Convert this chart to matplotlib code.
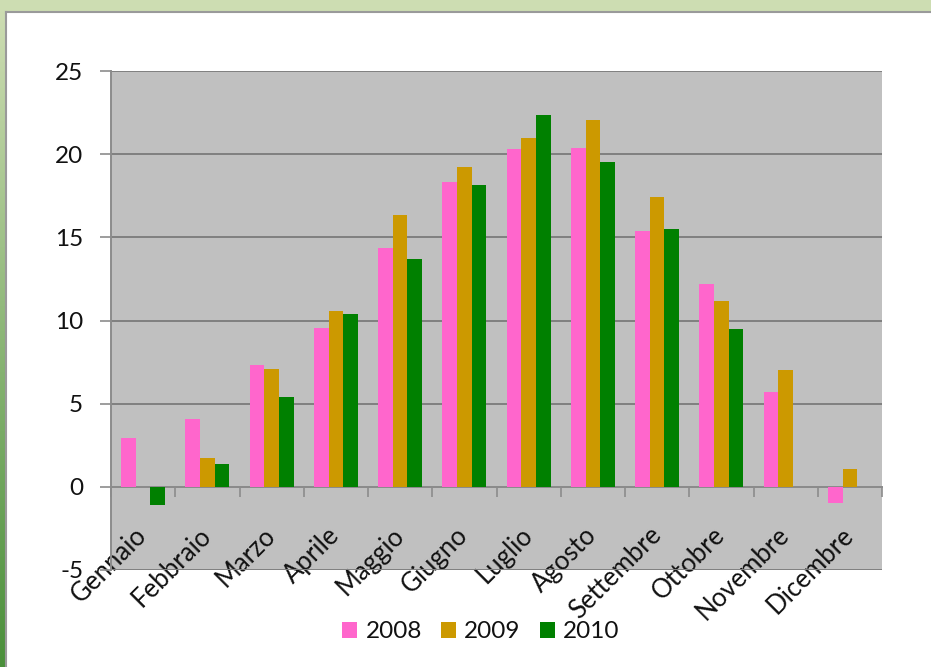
import numpy as np
import matplotlib
matplotlib.use("Agg")
import matplotlib.pyplot as plt
from matplotlib.patches import Rectangle
from matplotlib.colors import LinearSegmentedColormap

months = ["Gennaio", "Febbraio", "Marzo", "Aprile", "Maggio", "Giugno",
          "Luglio", "Agosto", "Settembre", "Ottobre", "Novembre", "Dicembre"]
years = ["2008", "2009", "2010"]
v2008 = [2.95, 4.1, 7.3, 9.55, 14.35, 18.3, 20.3, 20.4, 15.4, 12.2, 5.7, -1.0]
v2009 = [0.0, 1.75, 7.1, 10.6, 16.35, 19.2, 20.95, 22.05, 17.4, 11.2, 7.0, 1.1]
v2010 = [-1.1, 1.35, 5.4, 10.4, 13.7, 18.15, 22.35, 19.5, 15.5, 9.5, np.nan, np.nan]
yticks = [-5, 0, 5, 10, 15, 20, 25]

colors = ["#FF66CC", "#CC9900", "#008000"]

plt.rcParams['font.family'] = ['Lato', 'DejaVu Sans']

fig = plt.figure(figsize=(9.31, 6.67), dpi=100)
fig.patch.set_facecolor("white")

W, H = 931, 667
# decorative frame
fig.patches.append(Rectangle((0, 1 - 11 / H), 1, 11 / H, transform=fig.transFigure,
                             facecolor="#CDDDB2", edgecolor="none", zorder=0))
grad = np.linspace(0, 1, 256).reshape(-1, 1)
cmap = LinearSegmentedColormap.from_list("g", ["#4A8F3A", "#CDDDB2"])
gax = fig.add_axes([0, 0, 4.5 / W, 1 - 11 / H])
gax.imshow(grad, aspect="auto", cmap=cmap, origin="lower")
gax.axis("off")
fig.add_artist(plt.Line2D([5.5 / W, 5.5 / W], [0, 1 - 11.5 / H], transform=fig.transFigure,
                          color="#9A9A9A", lw=1.5))
fig.add_artist(plt.Line2D([5.5 / W, 1], [1 - 11.5 / H, 1 - 11.5 / H], transform=fig.transFigure,
                          color="#9A9A9A", lw=1.5))

ax = fig.add_axes([111 / W, 1 - 570 / H, (882 - 111) / W, (570 - 71) / H])
ax.set_facecolor("#C0C0C0")

x = np.arange(len(months))
bw = 0.228
for i, (vals, c, lab) in enumerate(zip([v2008, v2009, v2010], colors, years)):
    ax.bar(x + (i - 1) * bw, vals, width=bw, color=c, label=lab, zorder=3)

ax.set_xlim(-0.5, len(months) - 0.5)
ax.set_ylim(-5, 25)
ax.set_yticks(yticks)
ax.set_yticklabels([str(t) for t in yticks], fontsize=17.5, color="#111111")
ax.yaxis.grid(True, color="#808080", lw=1.4, zorder=1)
ax.set_axisbelow(True)

for s in ["top", "right"]:
    ax.spines[s].set_visible(False)
ax.spines["left"].set_color("#8C8C8C")
ax.spines["left"].set_linewidth(1.4)
ax.spines["bottom"].set_position(("data", 0))
ax.spines["bottom"].set_color("#8C8C8C")
ax.spines["bottom"].set_linewidth(1.4)

ax.tick_params(axis="y", length=8, width=1.2, color="#8C8C8C", pad=12)
ax.set_xticks(np.arange(len(months) + 1) - 0.5)
ax.set_xticklabels([])
ax.tick_params(axis="x", which="major", length=7, width=1.2, color="#8C8C8C", direction="out")
ax.set_xticks(x, minor=True)
ax.set_xticklabels(months, minor=True, rotation=45, ha="right", va="center",
                   rotation_mode="anchor", fontsize=18.5, color="#111111")
ax.tick_params(axis="x", which="minor", length=0, pad=32)

leg = fig.legend(loc="center", bbox_to_anchor=(481 / W, 1 - 632 / H), ncol=3, frameon=False,
                 fontsize=17.5, handlelength=0.6, handleheight=0.6, handletextpad=0.35,
                 columnspacing=0.8)
for t in leg.get_texts():
    t.set_color("#111111")

fig.savefig("out.png", dpi=100)
